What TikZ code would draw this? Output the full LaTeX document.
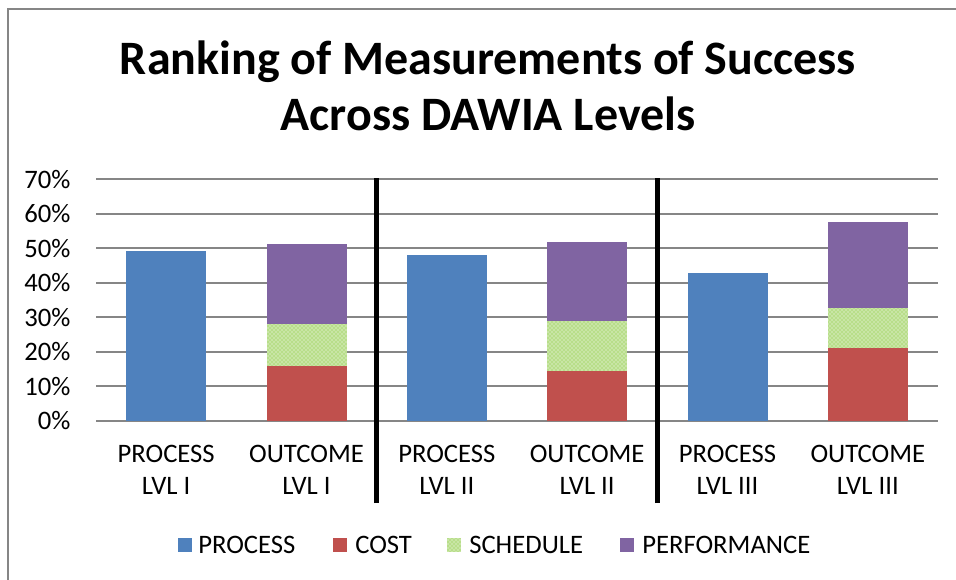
\documentclass[tikz,border=0pt]{standalone}
\usepackage{fontspec}
\setmainfont{Carlito}
\usetikzlibrary{patterns}
\definecolor{procblue}{RGB}{79,129,189}
\definecolor{costred}{RGB}{192,80,77}
\definecolor{schedgreen}{RGB}{184,222,138}
\definecolor{perfpurple}{RGB}{128,100,162}
\definecolor{gridgray}{RGB}{134,134,134}
\tikzset{
  gridline/.style={gridgray, line width=1.5pt},
  separator/.style={black, line width=3.8pt},
  schedfill/.style={fill=schedgreen, postaction={pattern=crosshatch dots, pattern color=white}},
  catlabel/.style={align=center, anchor=base, inner sep=0pt},
  legendtext/.style={anchor=base west, inner sep=0pt}
}
\begin{document}
\begin{tikzpicture}[x=0.75pt, y=-0.75pt, font=\fontsize{20}{24}\selectfont]
    \useasboundingbox (0,0) rectangle (956,580);
    \draw[gridgray, line width=1.2pt] (8,580) -- (8,9) -- (956,9);
    \node[anchor=base, inner sep=0pt, font=\fontsize{36}{42}\selectfont\bfseries] (title1) at (488,75) {Ranking of Measurements of Success};
    \node[anchor=base, inner sep=0pt, font=\fontsize{36}{42}\selectfont\bfseries] (title2) at (488,131) {Across DAWIA Levels};
    \begin{scope}[shift={(96,421)}, x=105.25pt, y=2.5875pt]
        \foreach \p in {0,10,...,70} {
            \draw[gridline] (0,\p) -- (6,\p);
            \node[anchor=east, inner sep=0pt] (tick\p) at (-0.18,\p) {\p\%};
        }
        \foreach \i/\v in {0/49.2, 2/48.1, 4/43} 
            \fill[procblue] (\i+0.215,0) rectangle (\i+0.785,\v);
        \foreach \i/\c/\s/\p in {1/16/28/51.3, 3/14.5/29/52, 5/21.2/32.8/57.6} {
            \fill[costred] (\i+0.215,0) rectangle (\i+0.785,\c);
            \path[schedfill] (\i+0.215,\c) rectangle (\i+0.785,\s);
            \fill[perfpurple] (\i+0.215,\s) rectangle (\i+0.785,\p);
        }
        \draw[separator] (2,-23.8) -- (2,70.4);
        \draw[separator] (4,-23.8) -- (4,70.4);
        \node[catlabel] (cat1) at (0.5,-21.4) {PROCESS\\LVL I};
        \node[catlabel] (cat2) at (1.5,-21.4) {OUTCOME\\LVL I};
        \node[catlabel] (cat3) at (2.5,-21.4) {PROCESS\\LVL II};
        \node[catlabel] (cat4) at (3.5,-21.4) {OUTCOME\\LVL II};
        \node[catlabel] (cat5) at (4.5,-21.4) {PROCESS\\LVL III};
        \node[catlabel] (cat6) at (5.5,-21.4) {OUTCOME\\LVL III};
    \end{scope}
    % legend
    \fill[procblue] (178,538) rectangle (192,552);
    \node[legendtext] (leg1) at (198,553) {PROCESS};
    \fill[costred] (333,538) rectangle (347,552);
    \node[legendtext] (leg2) at (355,553) {COST};
    \path[schedfill] (447,538) rectangle (461,552);
    \node[legendtext] (leg3) at (469,553) {SCHEDULE};
    \fill[perfpurple] (620,538) rectangle (634,552);
    \node[legendtext] (leg4) at (642,553) {PERFORMANCE};
\end{tikzpicture}
\end{document}
